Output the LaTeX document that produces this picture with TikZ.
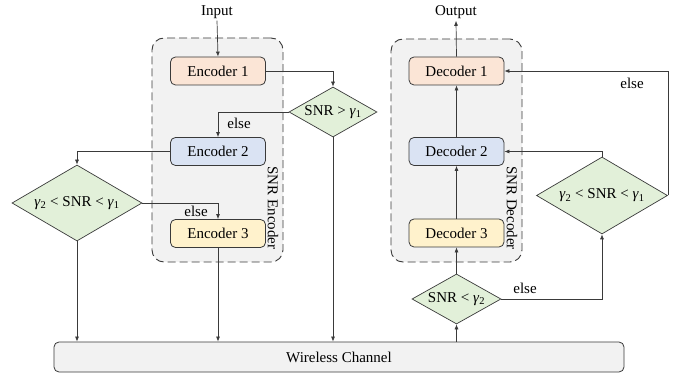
\documentclass[tikz,border=0pt]{standalone}
\usepackage{fontspec}
\setmainfont{Liberation Serif}
\usetikzlibrary{shapes.geometric,arrows.meta}
\definecolor{cpeach}{HTML}{FBE5D6}
\definecolor{cblue}{HTML}{DAE3F3}
\definecolor{cyell}{HTML}{FFF2CC}
\definecolor{cgreen}{HTML}{E2F0D9}
\definecolor{cgray}{HTML}{F2F2F2}
\definecolor{cline}{HTML}{3A3A3A}
\begin{document}
\begin{tikzpicture}[x=1pt,y=-1pt,
  every node/.style={font=\fontsize{15}{18}\selectfont, inner sep=0pt},
  blk/.style={draw=cline, line width=0.8pt, rounded corners=5pt, minimum width=95pt, minimum height=28pt},
  dia/.style={diamond, draw=cline, line width=0.7pt, fill=cgreen, aspect=1.75},
  grp/.style={draw=cline, line width=0.9pt, dash pattern=on 8pt off 4pt, rounded corners=12pt, fill=cgray},
  arr/.style={draw=cline, line width=0.7pt, -{Latex[length=5pt,width=4pt]}},
  lbl/.style={}
]
\useasboundingbox (0,0) rectangle (681,377);
% groups
\node[grp, minimum width=131pt, minimum height=224pt] (encgrp) at (217.5,150) {};
\node[grp, minimum width=131pt, minimum height=223pt] (decgrp) at (456.5,150.5) {};
\node[rotate=-90] (enclab) at (273,208) {SNR Encoder};
\node[rotate=-90] (declab) at (512,208) {SNR Decoder};
% channel
\node[draw=cline, line width=0.8pt, rounded corners=5pt, fill=cgray, minimum width=570pt, minimum height=30pt] (ch) at (339,357) {Wireless Channel};
% encoder
\node (in) at (217,12) {Input};
\node[blk, fill=cpeach] (e1) at (218,71) {Encoder 1};
\node[blk, fill=cblue] (e2) at (218,151.5) {Encoder 2};
\node[blk, fill=cyell] (e3) at (218,233.5) {Encoder 3};
\node[dia, minimum width=88pt, minimum height=50pt] (c1) at (333,112) {SNR > \textit{γ}\textsubscript{1}};
\node[dia, minimum width=130pt, minimum height=76pt] (c2) at (77,203) {\textit{γ}\textsubscript{2} < SNR < \textit{γ}\textsubscript{1}};
% decoder
\node (out) at (456,12) {Output};
\node[blk, fill=cpeach] (d1) at (456.5,71) {Decoder 1};
\node[blk, fill=cblue] (d2) at (456.5,151.5) {Decoder 2};
\node[blk, fill=cyell] (d3) at (456.5,233) {Decoder 3};
\node[dia, minimum width=89pt, minimum height=50pt] (c3) at (456.5,299) {SNR < \textit{γ}\textsubscript{2}};
\node[dia, minimum width=131pt, minimum height=77pt] (c4) at (602,195.5) {\textit{γ}\textsubscript{2} < SNR < \textit{γ}\textsubscript{1}};
% labels
\node[lbl] (else1) at (239,123) {else};
\node[lbl] (else2) at (196,211) {else};
\node[lbl] (else3) at (525,288) {else};
\node[lbl] (else4) at (632,83) {else};
% encoder connectors
\draw[arr] (in.south) ++(0,2) -- (e1.north);
\draw[arr] (e1.east) -| (c1.north);
\draw[arr] (c1.west) -| (e2.north);
\draw[arr] (e2.west) -| (c2.north);
\draw[arr] (c2.east) -| (e3.north);
\draw[arr] (c2.south) -- (c2.south |- ch.north);
\draw[arr] (e3.south) -- (e3.south |- ch.north);
\draw[arr] (c1.south) -- (c1.south |- ch.north);
% decoder connectors
\draw[arr] (d1.north) -- ([yshift=-2pt]out.south);
\draw[arr] (d2.north) -- (d1.south);
\draw[arr] (d3.north) -- (d2.south);
\draw[arr] (c3.north) -- (d3.south);
\draw[arr] (c3.south |- ch.north) -- (c3.south);
\draw[arr] (c3.east) -| (c4.south);
\draw[arr] (c4.north) |- (d2.east);
\draw[arr] (c4.east) |- (d1.east);
\end{tikzpicture}
\end{document}
